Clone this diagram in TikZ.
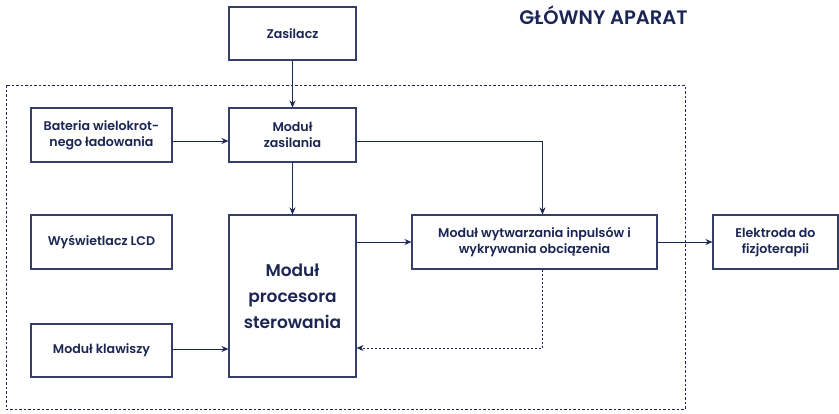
\documentclass[tikz,border=0pt]{standalone}
\usepackage{fontspec}
\setmainfont{Poppins}[UprightFont={* SemiBold}]
\usetikzlibrary{arrows.meta}
\definecolor{navy}{RGB}{28,38,84}
\definecolor{boxline}{RGB}{52,62,105}
\tikzset{
  blk/.style={draw=boxline, line width=1.1pt, fill=white, text=navy, align=center, inner sep=0pt,
    font=\fontsize{12.6}{16}\selectfont},
  conn/.style={draw=navy, line width=1pt, -{Stealth[length=7pt,width=6pt]}},
  dconn/.style={conn, dash pattern=on 2pt off 2pt},
  frame/.style={draw=navy, line width=1pt, dash pattern=on 2.5pt off 2pt}
}
\begin{document}
\begin{tikzpicture}[x=1pt,y=-1pt]
\useasboundingbox (0,0) rectangle (839,413);
\draw[frame] (6,85) rectangle (685,409);
\node[text=navy, font=\fontsize{19.5}{22}\selectfont, inner sep=0pt] (title) at (603.5,15) {GŁÓWNY APARAT};
\node[blk, minimum width=127pt, minimum height=53pt] (zasilacz) at (292.5,33.5) {Zasilacz};
\node[blk, minimum width=127pt, minimum height=54pt] (zasilania) at (292.5,135) {Moduł\\zasilania};
\node[blk, minimum width=141pt, minimum height=54pt] (bateria) at (101.5,135) {Bateria wielokrot-\\nego ładowania};
\node[blk, minimum width=141pt, minimum height=54pt] (lcd) at (101.5,242) {Wyświetlacz LCD};
\node[blk, minimum width=127pt, minimum height=162pt, font=\fontsize{17}{26}\selectfont] (procesor) at (292.5,296) {Moduł\\procesora\\sterowania};
\node[blk, minimum width=141pt, minimum height=53pt] (klawiszy) at (101.5,350.5) {Moduł klawiszy};
\node[blk, minimum width=245pt, minimum height=54pt] (wytw) at (534.5,242) {Moduł wytwarzania inpulsów i\\wykrywania obciązenia};
\node[blk, minimum width=125pt, minimum height=54pt] (elektroda) at (775.5,242) {Elektroda do\\fizjoterapii};
\draw[conn] (zasilacz) -- (zasilania);
\draw[conn] ([yshift=-6pt]bateria.east) -- ([yshift=-6pt]zasilania.west);
\draw[conn] ([yshift=-6pt]zasilania.east) -| ([xshift=8pt]wytw.north);
\draw[conn] (zasilania) -- (procesor);
\draw[conn] (procesor.east |- wytw.west) -- (wytw.west);
\draw[conn] (wytw) -- (elektroda);
\draw[conn] ([yshift=1.5pt]klawiszy.east) -- ([yshift=1.5pt]klawiszy.east -| procesor.west);
\draw[dconn] ([xshift=8pt]wytw.south) |- ([yshift=2.5pt]procesor.east |- klawiszy.east);
\end{tikzpicture}
\end{document}
